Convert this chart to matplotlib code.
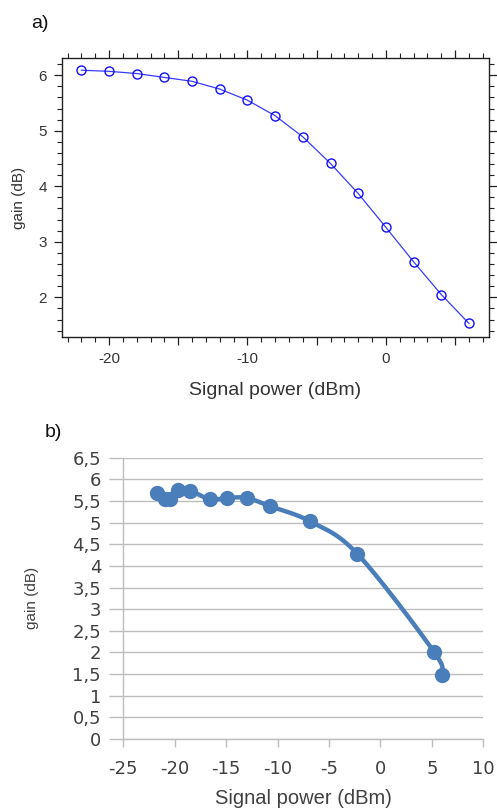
import numpy as np
import matplotlib
matplotlib.use("Agg")
import matplotlib.pyplot as plt
from matplotlib.ticker import MultipleLocator, FuncFormatter

# ---- data (panel a) ----
power_a = [-22, -20, -18, -16, -14, -12, -10, -8, -6, -4, -2, 0, 2, 4, 6]
gain_a = [6.09, 6.07, 6.03, 5.96, 5.89, 5.75, 5.55, 5.27, 4.89, 4.41, 3.87, 3.26, 2.64, 2.05, 1.53]

# ---- data (panel b) ----
power_b = [-21.75, -20.95, -20.5, -19.7, -18.5, -16.6, -14.95, -13.0, -10.75, -6.85, -2.25, 5.25, 5.95]
gain_b = [5.68, 5.54, 5.54, 5.75, 5.74, 5.54, 5.57, 5.57, 5.38, 5.03, 4.28, 2.00, 1.49]

xticks_b = [-25, -20, -15, -10, -5, 0, 5, 10]
yticks_b = [0, 0.5, 1, 1.5, 2, 2.5, 3, 3.5, 4, 4.5, 5, 5.5, 6, 6.5]


def catmull_rom(x, y, n=30):
    x = np.asarray(x, float)
    y = np.asarray(y, float)
    px = np.concatenate([[2 * x[0] - x[1]], x, [2 * x[-1] - x[-2]]])
    py = np.concatenate([[2 * y[0] - y[1]], y, [2 * y[-1] - y[-2]]])
    xs, ys = [], []
    t = np.linspace(0, 1, n)
    for i in range(1, len(px) - 2):
        for arr, out in ((px, xs), (py, ys)):
            p0, p1, p2, p3 = arr[i - 1], arr[i], arr[i + 1], arr[i + 2]
            out.extend(0.5 * ((2 * p1) + (-p0 + p2) * t + (2 * p0 - 5 * p1 + 4 * p2 - p3) * t ** 2
                              + (-p0 + 3 * p1 - 3 * p2 + p3) * t ** 3))
    return np.array(xs), np.array(ys)


W, H = 497, 809
fig = plt.figure(figsize=(W / 100, H / 100), dpi=100)
fig.patch.set_facecolor("white")

# ---------------- panel a ----------------
axa = fig.add_axes([62 / W, 1 - 337 / H, (489 - 62) / W, (337 - 58) / H])
axa.plot(power_a, gain_a, color="#3a3aff", lw=0.9, marker="o", ms=6.5,
         mfc="none", mec="#1010ff", mew=1.0)
axa.set_xlim(-23.4, 7.45)
axa.set_ylim(1.285, 6.31)
axa.xaxis.set_major_locator(MultipleLocator(5))
axa.xaxis.set_minor_locator(MultipleLocator(1))
axa.xaxis.set_major_formatter(FuncFormatter(lambda v, p: f"{int(round(v))}" if round(v) % 10 == 0 else ""))
axa.yaxis.set_major_locator(MultipleLocator(1))
axa.yaxis.set_minor_locator(MultipleLocator(0.2))
axa.tick_params(which="both", direction="out", top=True, right=True,
                labelsize=11, labelcolor="#333333", color="#222222")
axa.tick_params(which="major", length=6, width=0.9, pad=5)
axa.tick_params(which="minor", length=3.5, width=0.8)
for lab in axa.get_xticklabels() + axa.get_yticklabels():
    lab.set_family("Liberation Sans")
for s in axa.spines.values():
    s.set_linewidth(1.0)
    s.set_color("#222222")
axa.set_xlabel("Signal power (dBm)", family="Liberation Sans", fontsize=14, color="#333333", labelpad=11)
axa.set_ylabel("gain (dB)", family="Liberation Sans", fontsize=11, color="#333333", labelpad=9)
fig.text(31 / W, 1 - 28 / H, "a)", family="Liberation Sans", fontsize=14, color="#111111", va="baseline")

# ---------------- panel b ----------------
axb = fig.add_axes([123.3 / W, 1 - 739 / H, (483.3 - 123.3) / W, (739 - 457.7) / H])
sx, sy = catmull_rom(power_b, gain_b)
axb.plot(sx, sy, color="#4a7ebb", lw=3.2, solid_capstyle="round", zorder=3)
axb.plot(power_b, gain_b, ls="none", marker="o", ms=10, color="#4a7ebb", zorder=4)
axb.set_xlim(-25, 10)
axb.set_ylim(0, 6.5)
axb.set_xticks(xticks_b)
axb.set_yticks(yticks_b)
axb.set_xticklabels([f"{v}" for v in xticks_b])
axb.set_yticklabels([f"{v:g}".replace(".", ",") for v in yticks_b])
axb.grid(axis="y", color="#bdbdbd", lw=1.0)
axb.set_axisbelow(True)
for k in ("top", "right"):
    axb.spines[k].set_visible(False)
for k in ("left", "bottom"):
    axb.spines[k].set_color("#bdbdbd")
    axb.spines[k].set_linewidth(1.0)
axb.tick_params(axis="y", direction="out", length=10, width=1.0, color="#bdbdbd", pad=6,
                labelsize=13, labelcolor="#404040")
axb.tick_params(axis="x", direction="out", length=6, width=1.0, color="#bdbdbd", pad=9,
                labelsize=13, labelcolor="#404040")
axb.set_xlabel("Signal power (dBm)", family="Liberation Sans", fontsize=14.5, color="#404040", labelpad=8)
axb.set_ylabel("gain (dB)", family="Liberation Sans", fontsize=11, color="#404040", labelpad=24)
fig.text(45 / W, 1 - 437 / H, "b)", family="Liberation Sans", fontsize=14, color="#111111", va="baseline")

fig.savefig("out.png", dpi=100)
